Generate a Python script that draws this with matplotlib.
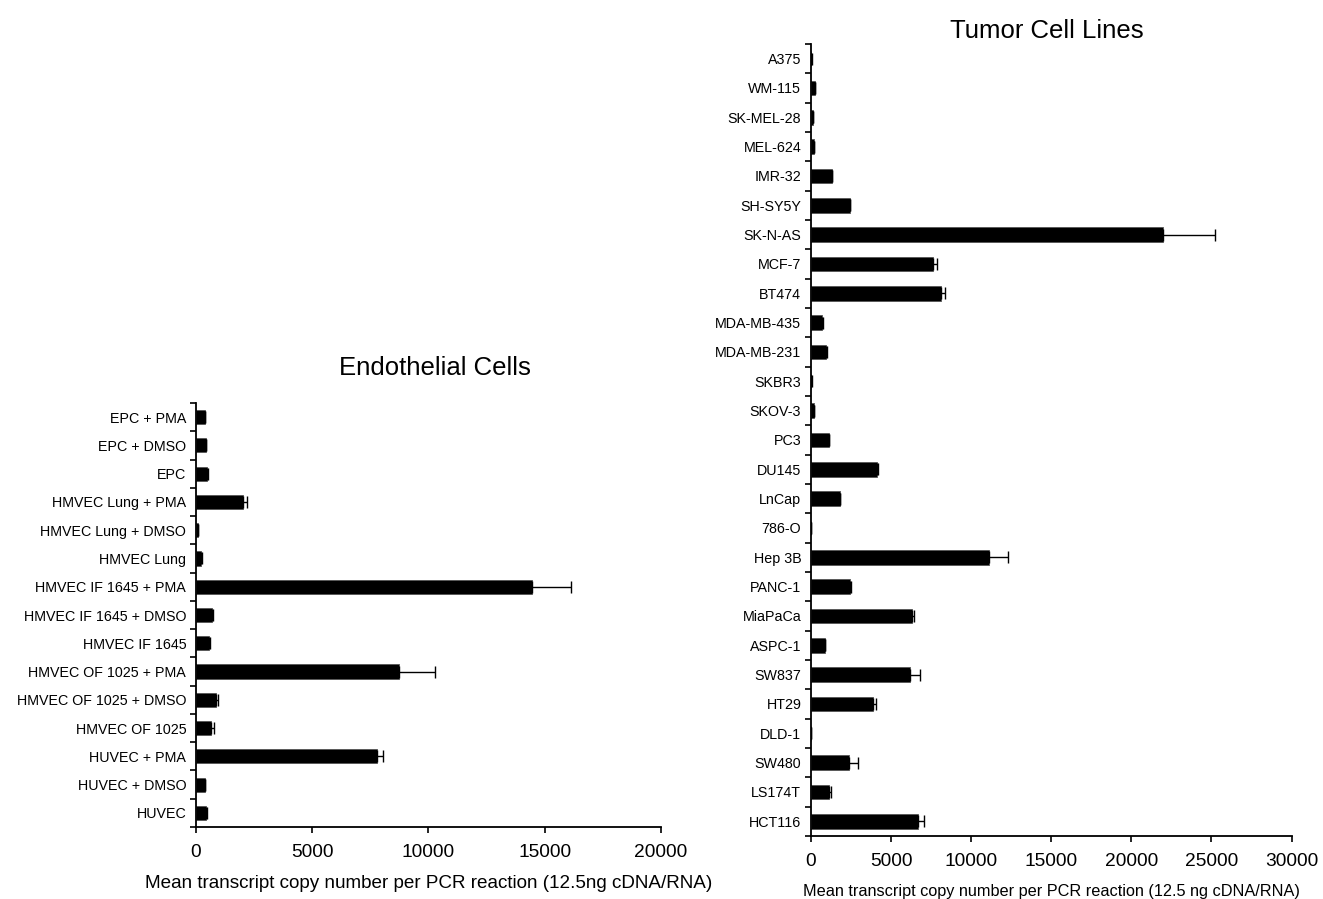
import matplotlib
matplotlib.use("Agg")
import matplotlib.pyplot as plt
import numpy as np

plt.rcParams['font.family'] = ['Liberation Sans', 'DejaVu Sans']

# Endothelial cells (top to bottom)
endo_labels = ["EPC + PMA", "EPC + DMSO", "EPC", "HMVEC Lung + PMA", "HMVEC Lung + DMSO",
               "HMVEC Lung", "HMVEC IF 1645 + PMA", "HMVEC IF 1645 + DMSO", "HMVEC IF 1645",
               "HMVEC OF 1025 + PMA", "HMVEC OF 1025 + DMSO", "HMVEC OF 1025",
               "HUVEC + PMA", "HUVEC + DMSO", "HUVEC"]
endo_mean = [380, 420, 480, 2030, 100, 220, 14450, 680, 570, 8750, 880, 650, 7800, 380, 450]
endo_err = [20, 20, 40, 150, 10, 20, 1700, 60, 20, 1550, 60, 130, 250, 10, 10]

# Tumor cell lines (top to bottom)
tumor_labels = ["A375", "WM-115", "SK-MEL-28", "MEL-624", "IMR-32", "SH-SY5Y", "SK-N-AS",
                "MCF-7", "BT474", "MDA-MB-435", "MDA-MB-231", "SKBR3", "SKOV-3", "PC3",
                "DU145", "LnCap", "786-O", "Hep 3B", "PANC-1", "MiaPaCa", "ASPC-1", "SW837",
                "HT29", "DLD-1", "SW480", "LS174T", "HCT116"]
tumor_mean = [30, 230, 100, 170, 1300, 2430, 22000, 7600, 8100, 700, 960, 30, 160, 1120,
              4100, 1820, 20, 11100, 2450, 6300, 870, 6150, 3900, 20, 2400, 1100, 6700]
tumor_err = [5, 20, 10, 10, 20, 20, 3250, 250, 270, 20, 20, 5, 10, 20,
             60, 20, 5, 1200, 40, 130, 20, 650, 130, 5, 540, 170, 370]

fig = plt.figure(figsize=(13.23, 8.99), dpi=100)
ax1 = fig.add_axes([0.1481, 0.0801, 0.3515, 0.4716])
ax2 = fig.add_axes([0.6130, 0.0701, 0.3632, 0.8810])


def draw_panel(ax, labels, mean, err, xmax, top, title, xlabel, xlabel_size, title_pad, title_x):
    y = np.arange(len(labels))
    ax.barh(y, mean, height=0.5, color="black", edgecolor="#555555", linewidth=0.6, zorder=2)
    ax.errorbar(mean, y, xerr=[np.zeros(len(err)), err], fmt="none", ecolor="black",
                elinewidth=1.0, capsize=4, capthick=1.0, zorder=3)
    ax.set_xlim(0, xmax)
    ax.set_ylim(len(labels) - 0.5, top)
    ax.set_yticks(y)
    ax.set_yticklabels(labels, fontsize=10.3)
    ax.set_yticks(np.arange(len(labels) + 1) - 0.5, minor=True)
    ax.tick_params(axis="y", which="major", length=0, pad=7)
    ax.tick_params(axis="y", which="minor", length=4, width=1.2, direction="out")
    ax.set_xticks(np.arange(0, xmax + 1, 5000))
    ax.tick_params(axis="x", labelsize=13.8, length=4, width=1.2, direction="out", pad=8)
    for s in ["top", "right"]:
        ax.spines[s].set_visible(False)
    for s in ["left", "bottom"]:
        ax.spines[s].set_linewidth(1.3)
    ax.set_title(title, fontsize=18.5, pad=title_pad, x=title_x)
    ax.set_xlabel(xlabel, fontsize=xlabel_size, labelpad=10)


draw_panel(ax1, endo_labels, endo_mean, endo_err, 20000, -0.19, "Endothelial Cells",
           "Mean transcript copy number per PCR reaction (12.5ng cDNA/RNA)", 13.6, 20, 0.515)
draw_panel(ax2, tumor_labels, tumor_mean, tumor_err, 30000, -0.5, "Tumor Cell Lines",
           "Mean transcript copy number per PCR reaction (12.5 ng cDNA/RNA)", 11.7, 4, 0.49)

fig.savefig("out.png", dpi=100)
